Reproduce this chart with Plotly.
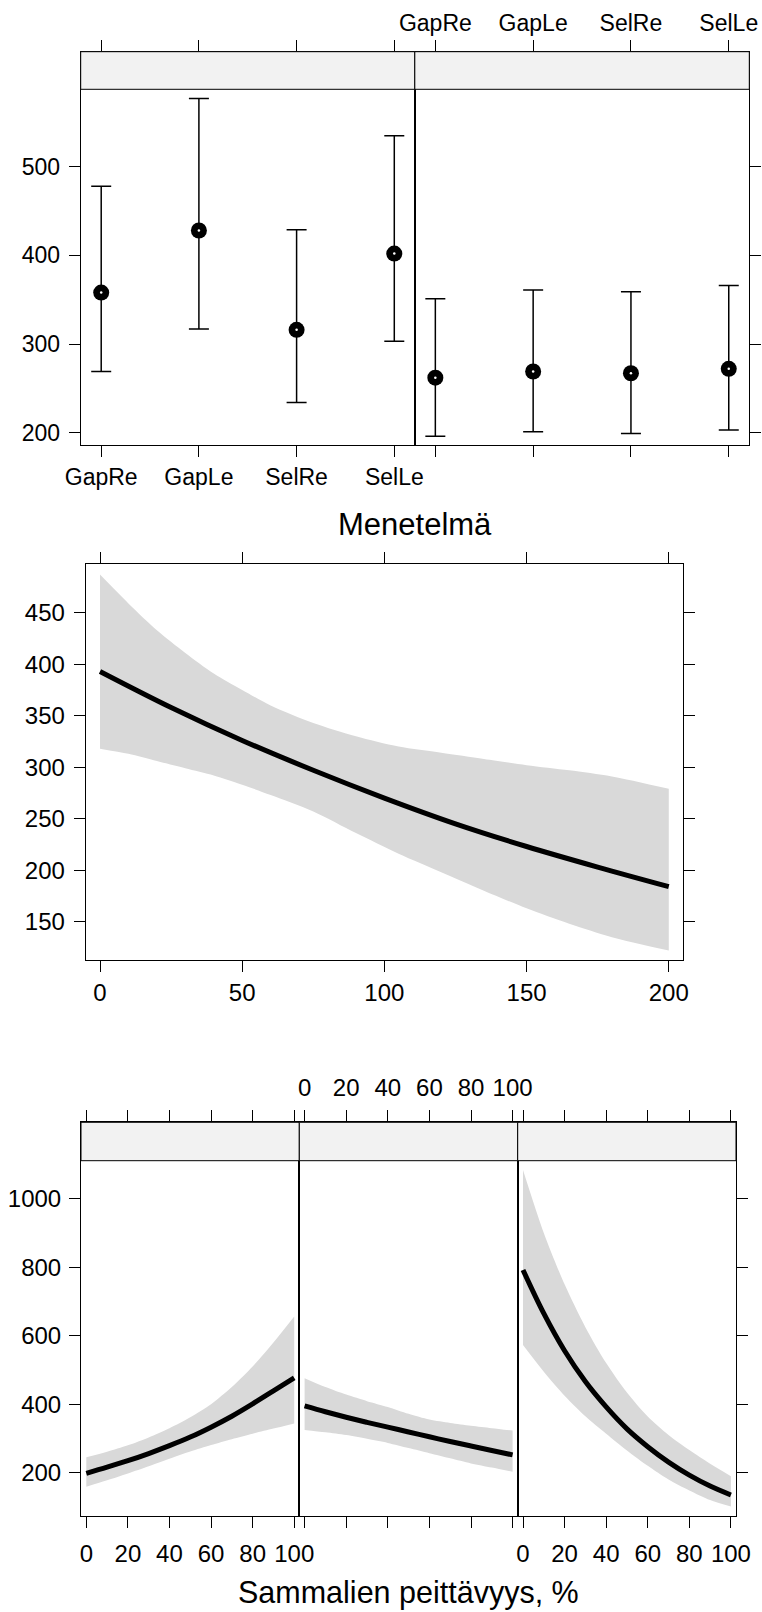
import plotly.graph_objects as go

# ---------------- data ----------------
categories = ["GapRe", "GapLe", "SelRe", "SelLe"]
est_left = [358, 428, 316, 402]
low_left = [269, 317, 234, 303]
upp_left = [478, 577, 429, 535]
est_right = [262, 269, 267, 272]
low_right = [196, 201, 199, 203]
upp_right = [351, 361, 359, 366]

dist_x = [0, 25, 50, 75, 100, 125, 150, 175, 200]
dist_fit = [393, 358, 326, 297, 270, 245, 223, 203, 184]
dist_band_x = [0, 10, 20, 30, 40, 50, 60, 75, 90, 105, 120, 135, 150, 165, 180, 200]
dist_upper = [487, 459, 433, 411, 391, 375, 360, 343, 330, 320, 314, 308, 302, 297, 291, 279]
dist_lower = [318, 313, 306, 299, 292, 283, 273, 257, 236, 216, 198, 180, 163, 148, 135, 122]

moss_x = [0, 10, 20, 30, 40, 50, 60, 70, 80, 90, 100]
moss_fit_1 = [198, 216, 235, 256, 279, 304, 333, 365, 401, 439, 477]
moss_upp_1 = [245, 261, 280, 303, 330, 362, 400, 450, 510, 580, 656]
moss_low_1 = [159, 178, 198, 219, 241, 262, 281, 298, 314, 329, 344]
moss_fit_2 = [395, 378, 362, 347, 333, 319, 305, 291, 278, 265, 252]
moss_upp_2 = [476, 450, 428, 409, 392, 372, 355, 345, 337, 330, 323]
moss_low_2 = [325, 318, 310, 299, 287, 272, 257, 242, 227, 215, 203]
moss_fit_3 = [792, 665, 556, 466, 392, 328, 276, 231, 193, 161, 135]
moss_upp_3 = [1084, 900, 750, 625, 520, 434, 364, 310, 266, 226, 190]
moss_low_3 = [573, 495, 425, 365, 314, 265, 220, 180, 148, 120, 101]

cat_ticks = [0, 1, 2, 3]
top_yticks = [200, 300, 400, 500]
mid_xticks = [0, 50, 100, 150, 200]
mid_yticks = [150, 200, 250, 300, 350, 400, 450]
bot_xticks = [0, 20, 40, 60, 80, 100]
bot_yticks = [200, 400, 600, 800, 1000]

# ---------------- geometry ----------------
W, H = 762, 1612
FONT = "Liberation Sans, Arial, Helvetica, sans-serif"
BAND = "#d9d9d9"
STRIP = "#f2f2f2"


def fx(px):
    return px / W


def fy(py):
    return 1 - py / H


def aname(kind, n):
    return kind + ("" if n == 1 else str(n))


def aref(kind, n):
    return kind[0] + ("" if n == 1 else str(n))


fig = go.Figure()
layout = {}
shapes = []


def base_axis(fs):
    return dict(showgrid=False, zeroline=False, ticklen=11, tickwidth=1,
                tickcolor="black", linecolor="black", linewidth=1,
                automargin=False,
                tickfont=dict(family=FONT, size=fs, color="black"))


def panel(n, x0, x1, ytop, ystrip, ybot, xr, yr, fs, xcat=False):
    ext = yr[1] + (ystrip - ytop) * (yr[1] - yr[0]) / (ybot - ystrip)
    xa = base_axis(fs)
    xa.update(domain=[fx(x0), fx(x1)], range=xr, anchor=aref("y", n),
              showline=True, mirror=True, ticks="")
    if xcat:
        xa.update(type="category", categoryorder="array", categoryarray=categories)
    ya = base_axis(fs)
    ya.update(domain=[fy(ybot), fy(ytop)], range=[yr[0], ext], anchor=aref("x", n),
              showline=True, mirror=True, ticks="", showticklabels=False)
    layout[aname("xaxis", n)] = xa
    layout[aname("yaxis", n)] = ya
    if ystrip > ytop:
        shapes.append(dict(type="rect", xref="paper", yref="paper",
                           x0=fx(x0), x1=fx(x1), y0=fy(ystrip), y1=fy(ytop),
                           fillcolor=STRIP, line=dict(color="black", width=1),
                           layer="above"))


def set_bottom(n, vals, labels, standoff=None):
    ax = layout[aname("xaxis", n)]
    ax.update(ticks="outside", showticklabels=labels)
    if ax.get("type") != "category":
        ax.update(tickmode="array", tickvals=vals)
    if standoff is not None:
        ax.update(ticklabelstandoff=standoff)


def set_left(n, vals, standoff=None):
    ax = layout[aname("yaxis", n)]
    ax.update(ticks="outside", showticklabels=True, tickmode="array", tickvals=vals)
    if standoff is not None:
        ax.update(ticklabelstandoff=standoff)


def top_overlay(m, n, vals, labels, fs, text=None, standoff=None):
    base = layout[aname("xaxis", n)]
    ax = base_axis(fs)
    ax.update(overlaying=aref("x", n), side="top", anchor=aref("y", n),
              range=base["range"], showline=False, ticks="outside",
              tickmode="array", tickvals=vals, showticklabels=labels)
    if text is not None:
        ax.update(ticktext=text)
    if standoff is not None:
        ax.update(ticklabelstandoff=standoff)
    layout[aname("xaxis", m)] = ax
    fig.add_trace(go.Scatter(x=[None], y=[None], xaxis=aref("x", m),
                             yaxis=aref("y", n), showlegend=False, hoverinfo="skip"))


def right_overlay(m, n, vals, fs):
    base = layout[aname("yaxis", n)]
    ax = base_axis(fs)
    ax.update(overlaying=aref("y", n), side="right", anchor=aref("x", n),
              range=base["range"], showline=False, ticks="outside",
              tickmode="array", tickvals=vals, showticklabels=False)
    layout[aname("yaxis", m)] = ax
    fig.add_trace(go.Scatter(x=[None], y=[None], xaxis=aref("x", n),
                             yaxis=aref("y", m), showlegend=False, hoverinfo="skip"))


# ---------------- panels ----------------
TOP_FS, MID_FS, BOT_FS = 23, 24, 24
panel(1, 80.7, 414.8, 51.7, 89.3, 445, [-0.21, 3.21], [186.1, 587.3], TOP_FS, xcat=True)
panel(2, 414.8, 749.3, 51.7, 89.3, 445, [-0.21, 3.21], [186.1, 587.3], TOP_FS, xcat=True)
panel(3, 85.7, 682.7, 564, 564, 960, [-5.03, 204.9], [112.8, 497.3], MID_FS)
panel(4, 81, 299.3, 1122.3, 1160.7, 1516, [-2.55, 102.45], [73.6, 1111], BOT_FS)
panel(5, 299.3, 517.7, 1122.3, 1160.7, 1516, [-2.55, 102.45], [73.6, 1111], BOT_FS)
panel(6, 517.7, 736, 1122.3, 1160.7, 1516, [-2.55, 102.45], [73.6, 1111], BOT_FS)

set_bottom(1, cat_ticks, True)
set_bottom(2, cat_ticks, False)
set_left(1, top_yticks, standoff=4)
set_bottom(3, mid_xticks, True)
set_left(3, mid_yticks, standoff=4)
set_bottom(4, bot_xticks, True, standoff=5)
set_bottom(5, bot_xticks, False)
set_bottom(6, bot_xticks, True, standoff=5)
set_left(4, bot_yticks, standoff=3)

# ---------------- traces ----------------
def errbars(n, est, low, upp):
    fig.add_trace(go.Scatter(
        x=categories, y=est, mode="markers", xaxis=aref("x", n), yaxis=aref("y", n),
        marker=dict(color="black", size=16, symbol="circle"),
        error_y=dict(type="data", symmetric=False,
                     array=[u - e for u, e in zip(upp, est)],
                     arrayminus=[e - l for e, l in zip(est, low)],
                     color="black", thickness=1.5, width=10),
        showlegend=False, hoverinfo="skip"))
    fig.add_trace(go.Scatter(
        x=categories, y=est, mode="markers", xaxis=aref("x", n), yaxis=aref("y", n),
        marker=dict(color="white", size=2.5, symbol="circle"),
        showlegend=False, hoverinfo="skip"))


def effect(n, bx, upper, lower, lx, fit):
    fig.add_trace(go.Scatter(
        x=bx, y=lower, mode="lines", line=dict(width=0, color=BAND, shape="spline", smoothing=0.8),
        xaxis=aref("x", n), yaxis=aref("y", n), showlegend=False, hoverinfo="skip"))
    fig.add_trace(go.Scatter(
        x=bx, y=upper, mode="lines", fill="tonexty", fillcolor=BAND,
        line=dict(width=0, color=BAND, shape="spline", smoothing=0.8),
        xaxis=aref("x", n), yaxis=aref("y", n), showlegend=False, hoverinfo="skip"))
    fig.add_trace(go.Scatter(
        x=lx, y=fit, mode="lines", line=dict(color="black", width=5, shape="spline", smoothing=1.0),
        xaxis=aref("x", n), yaxis=aref("y", n), showlegend=False, hoverinfo="skip"))


errbars(1, est_left, low_left, upp_left)
errbars(2, est_right, low_right, upp_right)
effect(3, dist_band_x, dist_upper, dist_lower, dist_x, dist_fit)
effect(4, moss_x, moss_upp_1, moss_low_1, moss_x, moss_fit_1)
effect(5, moss_x, moss_upp_2, moss_low_2, moss_x, moss_fit_2)
effect(6, moss_x, moss_upp_3, moss_low_3, moss_x, moss_fit_3)

# overlays (ticks on top / right)
top_overlay(7, 1, cat_ticks, False, TOP_FS)
top_overlay(8, 2, cat_ticks, True, TOP_FS, text=categories)
top_overlay(9, 3, mid_xticks, False, MID_FS)
top_overlay(10, 4, bot_xticks, False, BOT_FS)
top_overlay(11, 5, bot_xticks, True, BOT_FS, standoff=5)
top_overlay(12, 6, bot_xticks, False, BOT_FS)
right_overlay(7, 2, top_yticks, TOP_FS)
right_overlay(8, 3, mid_yticks, MID_FS)
right_overlay(9, 6, bot_yticks, BOT_FS)

annotations = [
    dict(text="Menetelmä", x=fx(415), y=fy(524), xref="paper", yref="paper",
         showarrow=False, xanchor="center", yanchor="middle",
         font=dict(family=FONT, size=31, color="black")),
    dict(text="Sammalien peittävyys, %", x=fx(408), y=fy(1592), xref="paper", yref="paper",
         showarrow=False, xanchor="center", yanchor="middle",
         font=dict(family=FONT, size=30.5, color="black")),
]

fig.update_layout(
    width=W, height=H, margin=dict(l=0, r=0, t=0, b=0),
    paper_bgcolor="white", plot_bgcolor="white", showlegend=False,
    shapes=shapes, annotations=annotations, **layout)

fig.write_html("out.html")
